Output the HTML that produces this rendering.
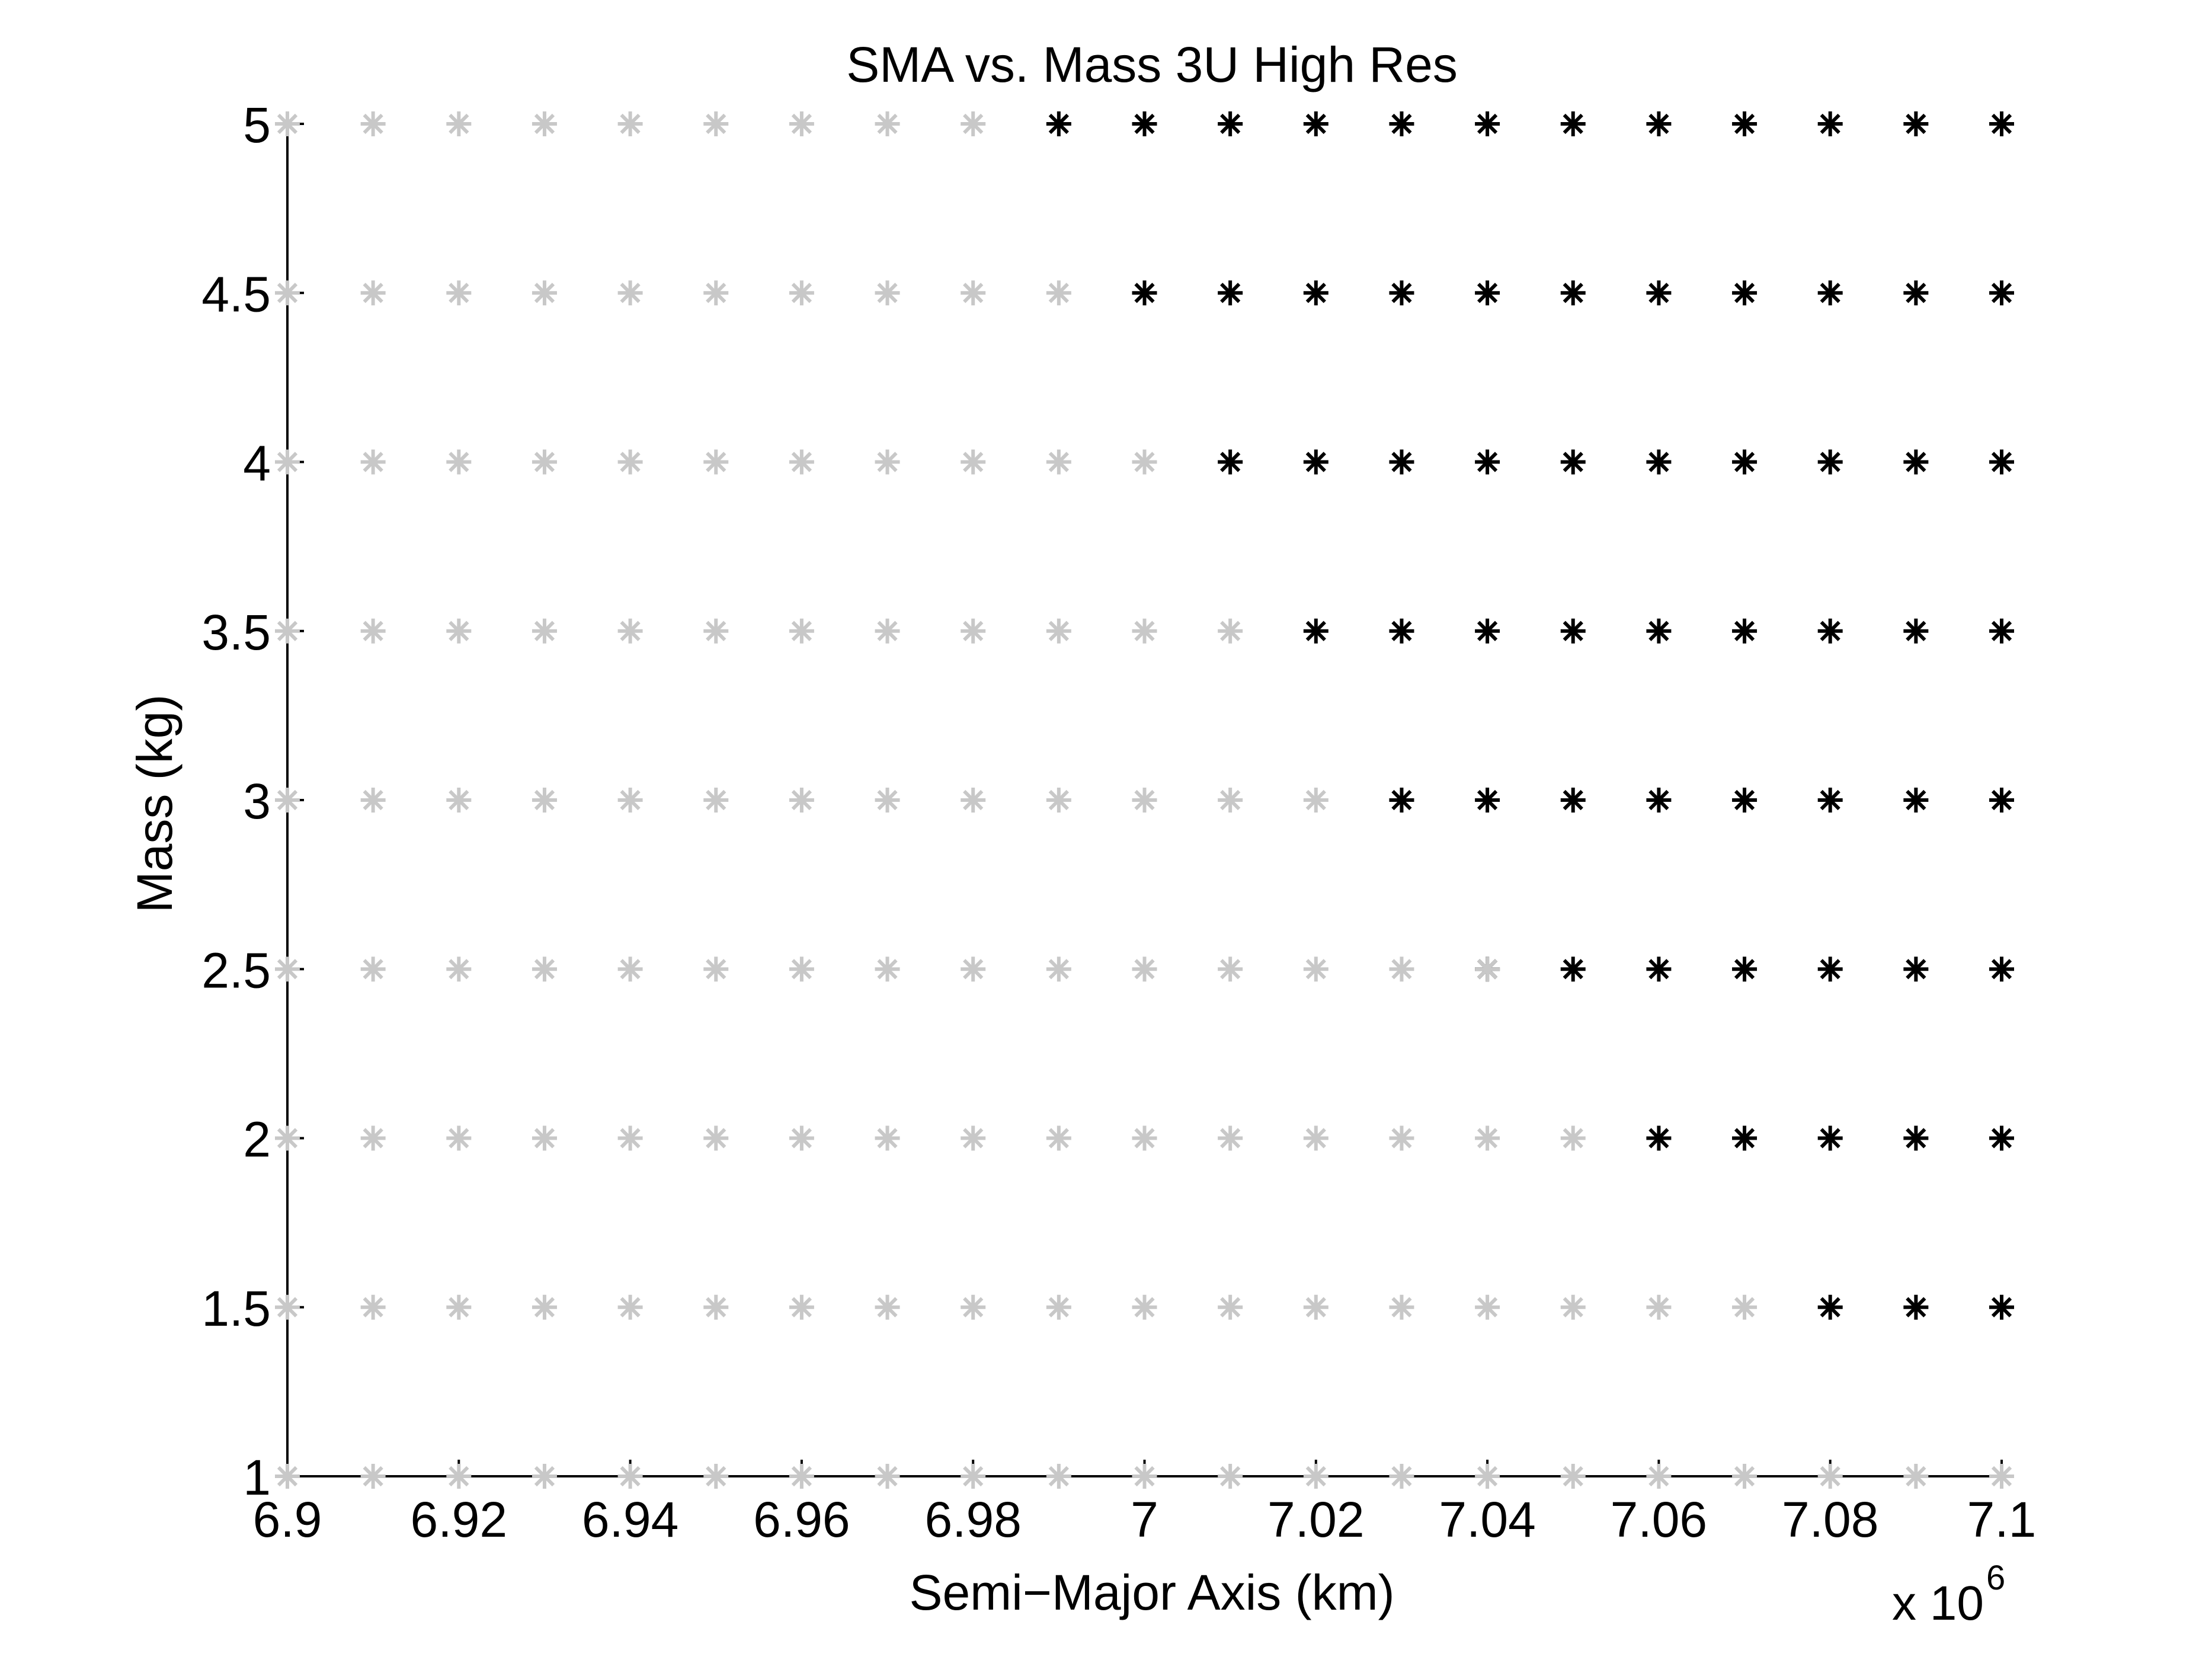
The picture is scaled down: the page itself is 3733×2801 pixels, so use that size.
<!DOCTYPE html>
<html><head><meta charset="utf-8"><style>
html,body{margin:0;padding:0;background:#fff;}
svg{display:block;}
text{font-family:"Liberation Sans",sans-serif;fill:#000;}
</style></head><body>
<svg id="chart" width="3733" height="2801" viewBox="0 0 3733 2801" xmlns="http://www.w3.org/2000/svg">
<rect width="3733" height="2801" fill="#fff"/>
<text x="1944" y="138" font-size="84" text-anchor="middle">SMA vs. Mass 3U High Res</text>
<text x="1944" y="2716" font-size="84" text-anchor="middle">Semi−Major Axis (km)</text>
<text transform="translate(290,1356) rotate(-90)" font-size="84" text-anchor="middle">Mass (kg)</text>
<text x="3193" y="2733" font-size="82">x 10</text>
<text x="3352" y="2682" font-size="58">6</text>
<g id="axes"></g>
<g id="marks"></g>
</svg>
<script>
const xTicks = [6.9, 6.92, 6.94, 6.96, 6.98, 7.0, 7.02, 7.04, 7.06, 7.08, 7.1];
const xTickLabels = ["6.9","6.92","6.94","6.96","6.98","7","7.02","7.04","7.06","7.08","7.1"];
const yTicks = [1, 1.5, 2, 2.5, 3, 3.5, 4, 4.5, 5];
const yTickLabels = ["1","1.5","2","2.5","3","3.5","4","4.5","5"];
const smaValues = [6.9,6.91,6.92,6.93,6.94,6.95,6.96,6.97,6.98,6.99,7.0,7.01,7.02,7.03,7.04,7.05,7.06,7.07,7.08,7.09,7.1];
const massValues = [1, 1.5, 2, 2.5, 3, 3.5, 4, 4.5, 5];
// first SMA (x1e6 km) at which each mass row is black (success); 99 = none
const blackStart = [99, 7.08, 7.06, 7.04, 7.03, 7.02, 7.01, 7.0, 6.99];
// last SMA at which each mass row is gray
const grayEnd = [7.1, 7.07, 7.05, 7.04, 7.02, 7.01, 7.0, 6.99, 6.98];

const X0=485, X1=3378, Y0=2491, Y1=209;
function sx(v){return X0+(v-6.9)/(7.1-6.9)*(X1-X0);}
function sy(v){return Y0-(v-1)/(5-1)*(Y0-Y1);}
const NS="http://www.w3.org/2000/svg";
function mk(tag,attrs,parent){const e=document.createElementNS(NS,tag);for(const k in attrs)e.setAttribute(k,attrs[k]);parent.appendChild(e);return e;}
const axes=document.getElementById('axes');
const marks=document.getElementById('marks');

let ax=mk('line',{x1:X0,y1:Y0,x2:X1,y2:Y0,stroke:'#000','stroke-width':4},axes);


let ay=mk('line',{x1:X0,y1:Y0,x2:X0,y2:Y1,stroke:'#000','stroke-width':4},axes);



xTicks.forEach((v,i)=>{
  const t=mk('line',{x1:sx(v),y1:Y0,x2:sx(v),y2:Y0-28,stroke:'#000','stroke-width':4},axes);
  
  
  const l=mk('text',{x:sx(v),y:2593,'font-size':84,'text-anchor':'middle'},axes);
  l.textContent=xTickLabels[i];
  
  
});
yTicks.forEach((v,i)=>{
  const t=mk('line',{x1:X0,y1:sy(v),x2:X0+28,y2:sy(v),stroke:'#000','stroke-width':4},axes);
  
  
  const l=mk('text',{x:457,y:sy(v)+31,'font-size':84,'text-anchor':'end'},axes);
  l.textContent=yTickLabels[i];
  
  
});

function star(cx,cy,color,name){
  const g=mk('g',{stroke:color,'stroke-width':6},marks);
  
  
  mk('line',{x1:cx-21,y1:cy,x2:cx+21,y2:cy},g);
  mk('line',{x1:cx,y1:cy-21,x2:cx,y2:cy+21},g);
  mk('line',{x1:cx-15,y1:cy-15,x2:cx+15,y2:cy+15},g);
  mk('line',{x1:cx+15,y1:cy-15,x2:cx-15,y2:cy+15},g);
}
massValues.forEach((m,r)=>{
  smaValues.forEach(s=>{
    if(s>=blackStart[r]-1e-9) star(sx(s),sy(m),'#000','success-point');
  });
  smaValues.forEach(s=>{
    if(s<=grayEnd[r]+1e-9) star(sx(s),sy(m),'#c8c8c8','fail-point');
  });
});
</script>
</body></html>
